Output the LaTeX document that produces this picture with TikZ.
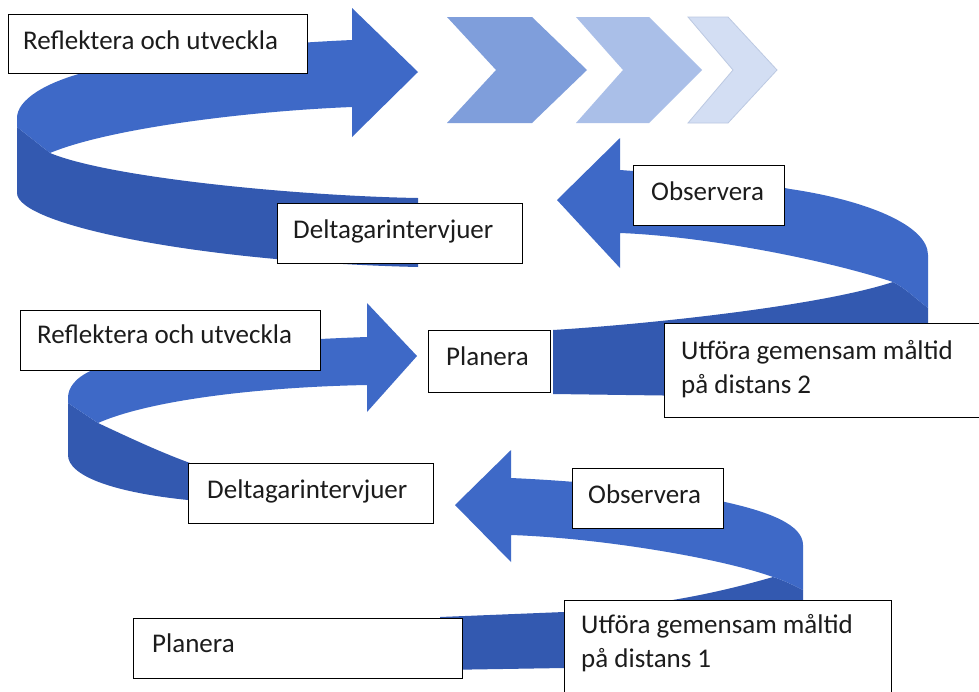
\documentclass[tikz,border=0pt]{standalone}
\usepackage{fontspec}
\setmainfont{Carlito}
\definecolor{arrowtop}{RGB}{62,105,199}
\definecolor{arrowside}{RGB}{51,89,176}
\definecolor{chevA}{RGB}{127,158,219}
\definecolor{chevB}{RGB}{170,191,232}
\definecolor{chevC}{RGB}{211,222,243}
\definecolor{chevCline}{RGB}{188,201,226}
\definecolor{textc}{RGB}{28,28,28}
\tikzset{
  topface/.style={fill=arrowtop},
  sideface/.style={fill=arrowside},
  lbox/.style={draw=black, line width=1.2pt, fill=white, rectangle, inner sep=0pt, anchor=north west},
  lbl/.style={anchor=base west, inner sep=0pt, text=textc, font=\fontsize{27}{33}\selectfont}
}
\begin{document}
\begin{tikzpicture}[x=1pt,y=-1pt]
\useasboundingbox[fill=white] (0,0) rectangle (979,691);

% ---------- spiral arrow A (top, pointing right) ----------
\fill[sideface] (17,127) -- (17,193)
  .. controls (17,225) and (200,262) .. (418,267)
  -- (418,198)
  .. controls (300,196) and (110,178) .. (50,153) -- cycle;
\fill[topface] (352,40) -- (352,8) -- (418,72) -- (352,137) -- (352,107)
  .. controls (250,111) and (110,128) .. (50,153)
  -- (17,127) -- (17,118)
  .. controls (17,100) and (45,82) .. (90,71)
  .. controls (160,55) and (260,44) .. (352,40) -- cycle;

% ---------- spiral arrow B (pointing left, loop at right) ----------
\fill[sideface] (893,282) .. controls (905,288) and (915,298) .. (928,308)
  -- (928,345) .. controls (928,380) and (800,395) .. (700,396)
  -- (553,394) -- (553,330)
  .. controls (650,324) and (820,306) .. (893,282) -- cycle;
\fill[topface] (557,200) -- (620,138) -- (620,170)
  .. controls (700,176) and (760,183) .. (790,189)
  .. controls (865,200) and (928,225) .. (928,255)
  -- (928,308)
  .. controls (915,298) and (905,288) .. (893,282)
  .. controls (820,258) and (700,236) .. (620,233)
  -- (620,268) -- cycle;

% ---------- spiral arrow C (middle, pointing right) ----------
\fill[sideface] (68,403) -- (68,455)
  .. controls (68,475) and (110,492) .. (188,500)
  .. controls (260,507) and (340,512) .. (400,513)
  -- (400,478)
  .. controls (330,478) and (250,475) .. (190,463)
  .. controls (160,452) and (130,438) .. (98,423) -- cycle;
\fill[topface] (417,356) -- (367,303) -- (367,337)
  .. controls (250,341) and (140,352) .. (95,369)
  .. controls (75,377) and (68,388) .. (68,398)
  -- (68,403) -- (98,423)
  .. controls (150,400) and (260,387) .. (367,385)
  -- (367,412) -- cycle;

% ---------- spiral arrow D (bottom, pointing left) ----------
\fill[sideface] (773,577) .. controls (783,580) and (793,585) .. (803,590)
  -- (803,640) .. controls (803,660) and (700,668) .. (564,668)
  -- (440,670) -- (440,617) -- (564,612)
  .. controls (640,607) and (700,598) .. (773,577) -- cycle;
\fill[topface] (455,505) -- (511,450) -- (511,478)
  .. controls (600,482) and (680,492) .. (725,502)
  .. controls (770,512) and (803,525) .. (803,545)
  -- (803,590)
  .. controls (793,585) and (783,580) .. (773,577)
  .. controls (720,558) and (600,538) .. (511,535)
  -- (511,562) -- cycle;

% ---------- chevrons ----------
\fill[chevA] (447,17) -- (532,17) -- (587,70) -- (532,123) -- (447,123) -- (496,70) -- cycle;
\fill[chevB] (576,17) -- (649,17) -- (702,70) -- (649,123) -- (576,123) -- (623,70) -- cycle;
\filldraw[fill=chevC, draw=chevCline, line width=0.8pt] (688,17) -- (728,17) -- (777,70) -- (728,123) -- (688,123) -- (733,70) -- cycle;

% ---------- label boxes ----------
\node[lbox, minimum width=299pt, minimum height=59pt] (b1) at (8,14) {};
\node[lbl] (t1) at (23,49) {Reflektera och utveckla};

\node[lbox, minimum width=245pt, minimum height=60pt] (b2) at (277,203) {};
\node[lbl] (t2) at (293,238) {Deltagarintervjuer};

\node[lbox, minimum width=151pt, minimum height=60pt] (b3) at (633,165) {};
\node[lbl] (t3) at (651,200) {Observera};

\node[lbox, minimum width=300pt, minimum height=60pt] (b4) at (20,310) {};
\node[lbl] (t4) at (37,343) {Reflektera och utveckla};

\node[lbox, minimum width=122pt, minimum height=62pt] (b5) at (428,330) {};
\node[lbl] (t5) at (446,365) {Planera};

\node[lbox, minimum width=330pt, minimum height=94pt] (b6) at (664,323) {};
\node[lbl] (t6a) at (681,359) {Utföra gemensam måltid};
\node[lbl] (t6b) at (681,393) {på distans 2};

\node[lbox, minimum width=245pt, minimum height=60pt] (b7) at (188,463) {};
\node[lbl] (t7) at (207,498) {Deltagarintervjuer};

\node[lbox, minimum width=151pt, minimum height=60pt] (b8) at (572,468) {};
\node[lbl] (t8) at (588,503) {Observera};

\node[lbox, minimum width=329pt, minimum height=60pt] (b9) at (133,618) {};
\node[lbl] (t9) at (152,652) {Planera};

\node[lbox, minimum width=327pt, minimum height=110pt] (b10) at (564,600) {};
\node[lbl] (t10a) at (581,633) {Utföra gemensam måltid};
\node[lbl] (t10b) at (581,667) {på distans 1};
\end{tikzpicture}
\end{document}
